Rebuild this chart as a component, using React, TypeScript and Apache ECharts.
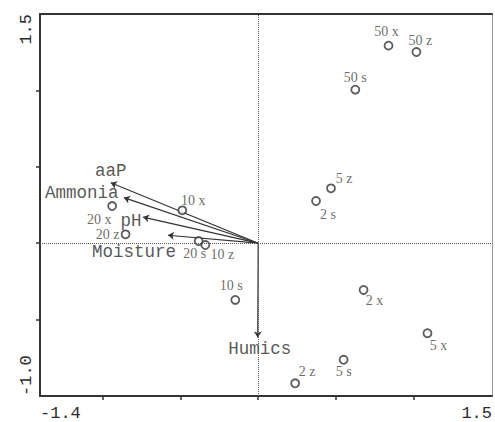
import React, { useEffect, useRef } from "react";
import * as echarts from "echarts";

// Sample scores (open circles)
const pointNames = ["50 x", "50 z", "50 s", "5 z", "2 s", "2 x", "5 x", "5 s", "2 z", "10 s", "20 s", "10 z", "20 z", "20 x", "10 x"];
const pointX = [0.836, 1.015, 0.623, 0.467, 0.371, 0.676, 1.086, 0.548, 0.237, -0.147, -0.382, -0.339, -0.851, -0.937, -0.487];
const pointY = [1.293, 1.251, 1.005, 0.359, 0.276, -0.306, -0.589, -0.763, -0.917, -0.371, 0.014, -0.012, 0.058, 0.243, 0.215];

// Environmental variable vectors (arrows from origin)
const arrowNames = ["aaP", "Ammonia", "pH", "Moisture", "Humics"];
const arrowX = [-0.946, -0.862, -0.739, -0.579, -0.003];
const arrowY = [0.396, 0.298, 0.171, 0.052, -0.617];

// Axis settings
const xMin = -1.4;
const xMax = 1.5;
const yMin = -1.0;
const yMax = 1.5;
const xTickValues = [-1.0, -0.5, 0, 0.5, 1.0];
const yTickValues = [-0.5, 0, 0.5, 1.0];
const xLabelValues = [-1.4, 1.5];
const yLabelValues = [-1.0, 1.5];

// Label placement (pixel offsets from the mark, presentation only)
const pointLabelOffsets: Record<string, [number, number]> = {
  "50 x": [-2, -14],
  "50 z": [4, -12],
  "50 s": [0, -12],
  "5 z": [13, -10],
  "2 s": [12, 13],
  "2 x": [11, 11],
  "5 x": [11, 12],
  "5 s": [0, 12],
  "2 z": [12, -12],
  "10 s": [-4, -14],
  "20 s": [-4, 12],
  "10 z": [17, 9],
  "20 z": [-18, 0],
  "20 x": [-13, 13],
  "10 x": [11, -10],
};
const arrowLabelOffsets: Record<string, [number, number]> = {
  aaP: [0, -12],
  Ammonia: [-42, -5],
  pH: [-12, 4],
  Moisture: [-34, 17],
  Humics: [2, 12],
};

const MONO = '"Liberation Mono", "DejaVu Sans Mono", monospace';
const SERIF = '"Liberation Serif", "DejaVu Serif", serif';
const INK = "#333";

export default function App() {
  const ref = useRef<HTMLDivElement>(null);

  useEffect(() => {
    if (!ref.current) return;
    const chart = echarts.init(ref.current, undefined, { renderer: "svg" });

    const fmt = (v: number) => v.toFixed(1);

    const option: any = {
      animation: false,
      backgroundColor: "#fff",
      grid: { left: 40, right: 2, top: 14, bottom: 25, containLabel: false },
      xAxis: [
        {
          type: "value",
          min: xMin,
          max: xMax,
          position: "bottom",
          axisLine: { show: true, onZero: false, lineStyle: { color: INK, width: 2 } },
          axisTick: { show: true, customValues: xTickValues, length: 4, lineStyle: { color: INK, width: 1.5 } },
          axisLabel: {
            show: true,
            customValues: xLabelValues,
            formatter: fmt,
            alignMinLabel: "left",
            alignMaxLabel: "right",
            fontFamily: MONO,
            fontSize: 17,
            color: "#2a2a2a",
            margin: 9,
          },
          splitLine: { show: false },
        },
        {
          type: "value",
          min: xMin,
          max: xMax,
          position: "top",
          axisLine: { show: true, onZero: false, lineStyle: { color: INK, width: 2 } },
          axisTick: { show: false },
          axisLabel: { show: false },
          splitLine: { show: false },
        },
      ],
      yAxis: [
        {
          type: "value",
          min: yMin,
          max: yMax,
          position: "left",
          axisLine: { show: true, onZero: false, lineStyle: { color: INK, width: 2 } },
          axisTick: { show: true, customValues: yTickValues, length: 4, lineStyle: { color: INK, width: 1.5 } },
          axisLabel: {
            show: true,
            customValues: yLabelValues,
            formatter: fmt,
            rotate: 90,
            alignMinLabel: "left",
            alignMaxLabel: "right",
            fontFamily: MONO,
            fontSize: 17,
            color: "#2a2a2a",
            margin: 5,
          },
          splitLine: { show: false },
        },
        {
          type: "value",
          min: yMin,
          max: yMax,
          position: "right",
          axisLine: { show: true, onZero: false, lineStyle: { color: "#999", width: 1 } },
          axisTick: { show: false },
          axisLabel: { show: false },
          splitLine: { show: false },
        },
      ],
      series: [
        {
          type: "scatter",
          name: "zero",
          data: [],
          silent: true,
          markLine: {
            silent: true,
            symbol: ["none", "none"],
            label: { show: false },
            lineStyle: { type: "dotted", color: "#555", width: 1 },
            data: [{ xAxis: 0 }, { yAxis: 0 }],
          },
        },
        {
          type: "lines",
          coordinateSystem: "cartesian2d",
          silent: true,
          symbol: ["none", "arrow"],
          symbolSize: [0, 6],
          lineStyle: { color: INK, width: 1.2, opacity: 1, curveness: 0 },
          data: arrowNames.map((n, i) => ({
            name: n,
            coords: [
              [0, 0],
              [arrowX[i], arrowY[i]],
            ],
          })),
        },
        {
          type: "scatter",
          name: "arrowLabels",
          silent: true,
          symbolSize: 0,
          itemStyle: { color: "transparent" },
          data: arrowNames.map((n, i) => ({
            name: n,
            value: [arrowX[i], arrowY[i]],
            label: {
              show: true,
              position: "inside",
              offset: arrowLabelOffsets[n],
              formatter: n,
              fontFamily: MONO,
              fontSize: 17.5,
              color: "#2a2a2a",
            },
          })),
        },
        {
          type: "scatter",
          name: "samples",
          silent: true,
          symbol: "circle",
          symbolSize: 8,
          itemStyle: { color: "#fff", borderColor: INK, borderWidth: 1.8 },
          data: pointNames.map((n, i) => ({
            name: n,
            value: [pointX[i], pointY[i]],
            label: {
              show: true,
              position: "inside",
              offset: pointLabelOffsets[n],
              formatter: n,
              fontFamily: SERIF,
              fontSize: 14,
              color: "#444",
            },
          })),
        },
      ],
    };

    chart.setOption(option);
    return () => chart.dispose();
  }, []);

  return (
    <div
      ref={ref}
      style={{ position: "fixed", left: 0, top: 0, width: 495, height: 422, background: "#fff" }}
    />
  );
}
